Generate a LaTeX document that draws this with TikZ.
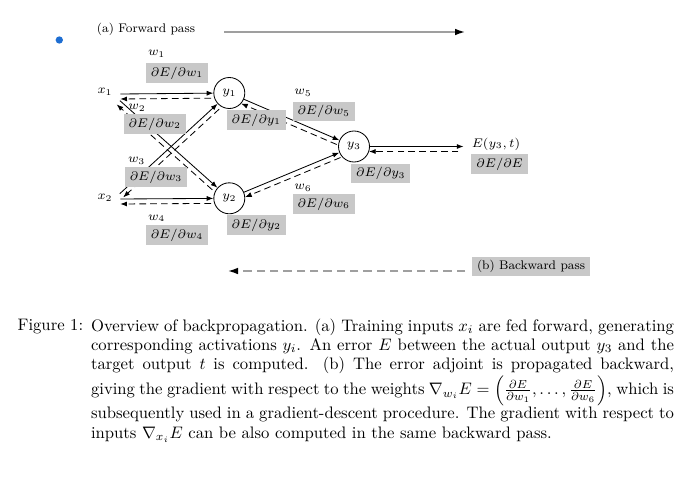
\RequirePackage{fix-cm}
\documentclass[tikz,border=0pt]{standalone}
\usetikzlibrary{arrows.meta,calc}
\definecolor{boxgray}{RGB}{200,200,200}
\definecolor{dotblue}{RGB}{30,110,210}
\newcommand\dfont{\fontsize{7.5}{9}\selectfont}
\newcommand\cfont{\fontsize{10}{11.6}\selectfont}
\begin{document}
\begin{tikzpicture}[x=0.6pt,y=-0.6pt,
  lab/.style={inner sep=0pt, font=\dfont},
  gbox/.style={fill=boxgray, inner xsep=3pt, inner ysep=2pt, font=\dfont},
  neuron/.style={circle, draw, line width=0.5pt, minimum size=18.6pt, inner sep=0pt, font=\dfont},
  fwdedge/.style={line width=0.5pt, -{Latex[length=4pt,width=3pt]}},
  bwdedge/.style={line width=0.5pt, dash pattern=on 4pt off 2.5pt, -{Latex[length=4pt,width=3pt]}},
  passline/.style={gray!75, line width=0.9pt, -{Latex[length=6pt,width=4pt,color=black]}},
]
\useasboundingbox (0,0) rectangle (687,483);

% blue dot
\node[circle, fill=dotblue, inner sep=0pt, minimum size=4.4pt] (dot) at (59.3,40) {};

% pass labels
\node[lab] (fwdtxt) at (146,29.5) {(a) Forward pass};
\coordinate (fa) at (224,32);
\coordinate (fb) at (465,32);
\draw[passline] (fa) -- (fb);

\node[gbox] (bwdtxt) at (531,266.7) {(b) Backward pass};
\coordinate (ba) at (465,271);
\coordinate (bb) at (228,271);
\draw[passline, dash pattern=on 5pt off 3pt] (ba) -- (bb);

% nodes
\node[lab] (x1) at (105,92) {$x_1$};
\node[lab] (x2) at (105,197.7) {$x_2$};
\node[neuron] (y1) at (229.3,93) {$y_1$};
\node[neuron] (y2) at (229.3,198.3) {$y_2$};
\node[neuron] (y3) at (354,146.5) {$y_3$};
\node[lab] (E) at (496,144) {$E(y_3,t)$};

\coordinate (s1) at ($(x1.east)+(7.5,2)$);
\coordinate (s2) at ($(x1.east)+(7.2,8.7)$);
\coordinate (s3) at ($(x2.east)+(7,-4)$);
\coordinate (s4) at ($(x2.east)+(7.5,1.3)$);
\coordinate (eo) at ($(E.west)+(-8,2.5)$);

% forward edges
\draw[fwdedge] (s1) -- (y1);
\draw[fwdedge] (s2) -- (y2);
\draw[fwdedge] (s3) -- (y1);
\draw[fwdedge] (s4) -- (y2);
\draw[fwdedge] (y1) -- (y3);
\draw[fwdedge] (y2) -- (y3);
\draw[fwdedge] (y3) -- (eo);

% backward edges
\draw[bwdedge, shorten <=11pt] ($(y1)!3pt!90:(s1)$) -- ($(s1)!3pt!-90:(y1)$);
\draw[bwdedge, shorten <=11pt] ($(y2)!3pt!90:(s2)$) -- ($(s2)!3pt!-90:(y2)$);
\draw[bwdedge, shorten <=11pt] ($(y1)!3pt!90:(s3)$) -- ($(s3)!3pt!-90:(y1)$);
\draw[bwdedge, shorten <=11pt] ($(y2)!3pt!90:(s4)$) -- ($(s4)!3pt!-90:(y2)$);
\draw[bwdedge, shorten <=10pt, shorten >=9pt] ($(y3)!3pt!90:(y1)$) -- ($(y1)!3pt!-90:(y3)$);
\draw[bwdedge, shorten <=10pt, shorten >=9pt] ($(y3)!3pt!90:(y2)$) -- ($(y2)!3pt!-90:(y3)$);
\draw[bwdedge, shorten <=3pt, shorten >=9pt] ($(eo)!3pt!90:(y3)$) -- ($(y3)!3pt!-90:(eo)$);

% weight labels
\node[lab] (w1) at (156.7,54) {$w_1$};
\node[lab] (w2) at (137,108) {$w_2$};
\node[lab] (w3) at (136.7,160.7) {$w_3$};
\node[lab] (w4) at (156.7,218.3) {$w_4$};
\node[lab] (w5) at (303,92.5) {$w_5$};
\node[lab] (w6) at (303,187.5) {$w_6$};

% gradient boxes
\node[gbox] (dw1) at (177,73) {$\partial E/\partial w_1$};
\node[gbox] (dw2) at (154.7,124) {$\partial E/\partial w_2$};
\node[gbox] (dw3) at (156,177) {$\partial E/\partial w_3$};
\node[gbox] (dw4) at (177,235) {$\partial E/\partial w_4$};
\node[gbox] (dw5) at (323.8,111.7) {$\partial E/\partial w_5$};
\node[gbox] (dw6) at (323.8,204) {$\partial E/\partial w_6$};
\node[gbox] (dy1) at (256.3,120) {$\partial E/\partial y_1$};
\node[gbox] (dy2) at (256.3,225) {$\partial E/\partial y_2$};
\node[gbox] (dy3) at (380.8,173.3) {$\partial E/\partial y_3$};
\node[gbox] (dE) at (499.7,164) {$\partial E/\partial E$};

% caption
\node[anchor=base west, inner sep=0pt, font=\cfont] (figlab) at (17.3,330.7) {Figure 1:};
\node[anchor=north west, inner sep=0pt, text width=349.8pt, align=justify, font=\cfont] (cap) at (90.7,317.4)
{\cfont\baselineskip=11.6pt\lineskip=1pt\lineskiplimit=0pt\noindent\rule{0pt}{8pt}Overview of backpropagation. (a) Training inputs $x_i$ are fed forward, generating\linebreak
corresponding activations $y_i$. An error $E$ between the actual output $y_3$ and the\linebreak
target output $t$ is computed. (b) The error adjoint is propagated backward,\linebreak
giving the gradient with respect to the weights $\nabla_{w_i} E = \left(\frac{\partial E}{\partial w_1},\ldots,\frac{\partial E}{\partial w_6}\right)$, which is\linebreak
subsequently used in a gradient-descent procedure. The gradient with respect to\linebreak
inputs $\nabla_{x_i} E$ can be also computed in the same backward pass.\par};
\end{tikzpicture}
\end{document}
